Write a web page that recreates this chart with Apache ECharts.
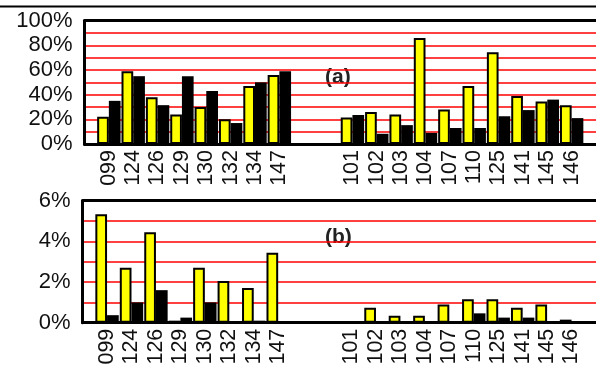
<!DOCTYPE html>
<html>
<head>
<meta charset="utf-8">
<script src="https://cdn.jsdelivr.net/npm/echarts@6/dist/echarts.min.js"></script>
<style>html,body{margin:0;padding:0;background:#fff;}#c{width:596px;height:372px;}</style>
</head>
<body>
<div id="c"></div>
<script>
var categories = ['', '099','124','126','129','130','132','134','147','','','101','102','103','104','107','110','125','141','145','146',''];
var topYellow = [null,22,59,38,24,30,20,47,56,null,null,21.5,26,24,86,28,47,74.5,39,34.5,31.5,null];
var topBlack  = [null,35,55,31.5,55,43,17,50,59,null,null,23.5,8.3,15.3,9,13,13,22.5,27.5,36,21,null];
var botYellow = [null,5.33,2.7,4.45,0.1,2.7,2.05,1.71,3.44,null,null,0,0.74,0.34,0.34,0.89,1.15,1.15,0.74,0.89,0.15,null];
var botBlack  = [null,0.37,1.0,1.6,0.25,1.0,0.05,0.1,0,null,null,0,0,0,0,0,0.46,0.25,0.25,0,0,null];
var topTicks = [0,20,40,60,80,100];
var botTicks = [0,2,4,6];

var FONT = 'Liberation Sans, Arial, sans-serif';
var chart = echarts.init(document.getElementById('c'), null, {renderer:'canvas'});

function xAx(gi){
  return {type:'category', gridIndex:gi, data:categories, boundaryGap:false,
    axisLine:{show:true, lineStyle:{color:'#000', width:3}},
    axisTick:{show:false},
    axisLabel:{rotate:90, interval:0, margin:6, fontSize:21.5, color:'#111', fontFamily:FONT},
    splitLine:{show:false}};
}
function topAx(gi){
  return {type:'value', gridIndex:gi, position:'top', min:0, max:1,
    axisLine:{show:true, onZero:false, lineStyle:{color:'#000', width:3}},
    axisTick:{show:false}, axisLabel:{show:false}, splitLine:{show:false}};
}
function yAx(gi, max, ticks){
  return {type:'value', gridIndex:gi, min:0, max:max, interval:max/ (gi===0?10:6),
    axisLine:{show:true, lineStyle:{color:'#000', width:3}},
    axisTick:{show:false},
    axisLabel:{margin:12, fontSize:22, color:'#111', fontFamily:FONT, padding:[4,0,0,0],
      formatter:function(v){ return ticks.indexOf(Math.round(v*1000)/1000)>=0 ? v+'%' : ''; }},
    splitLine:{show:true, lineStyle:{color:'#ff0000', width:1.5}}};
}
function bar(gi, data, color, border){
  return {type:'bar', xAxisIndex:gi, yAxisIndex:gi, data:data, barWidth:11.7, barGap:'0%',
    itemStyle:{color:color, borderColor:'#000', borderWidth:border}, animation:false};
}

chart.setOption({
  animation:false,
  grid:[
    {left:84.5, top:20.7, width:517, height:123.3},
    {left:82.6, top:200.7, width:518.5, height:122}
  ],
  xAxis:[xAx(0), xAx(1), topAx(0), topAx(1)],
  yAxis:[yAx(0,100,topTicks), yAx(1,6,botTicks)],
  series:[
    bar(0, topYellow, '#ffff00', 2),
    bar(0, topBlack, '#000000', 0),
    bar(1, botYellow, '#ffff00', 2),
    bar(1, botBlack, '#000000', 0)
  ],
  graphic:[
    {type:'line', shape:{x1:0, y1:6.5, x2:596, y2:6.5}, style:{stroke:'#000', lineWidth:2}},
    {type:'text', left:325, top:67, style:{text:'(a)', font:'bold 21px '+FONT, fill:'#222'}},
    {type:'text', left:325, top:226.5, style:{text:'(b)', font:'bold 21px '+FONT, fill:'#222'}}
  ]
});
</script>
</body>
</html>
